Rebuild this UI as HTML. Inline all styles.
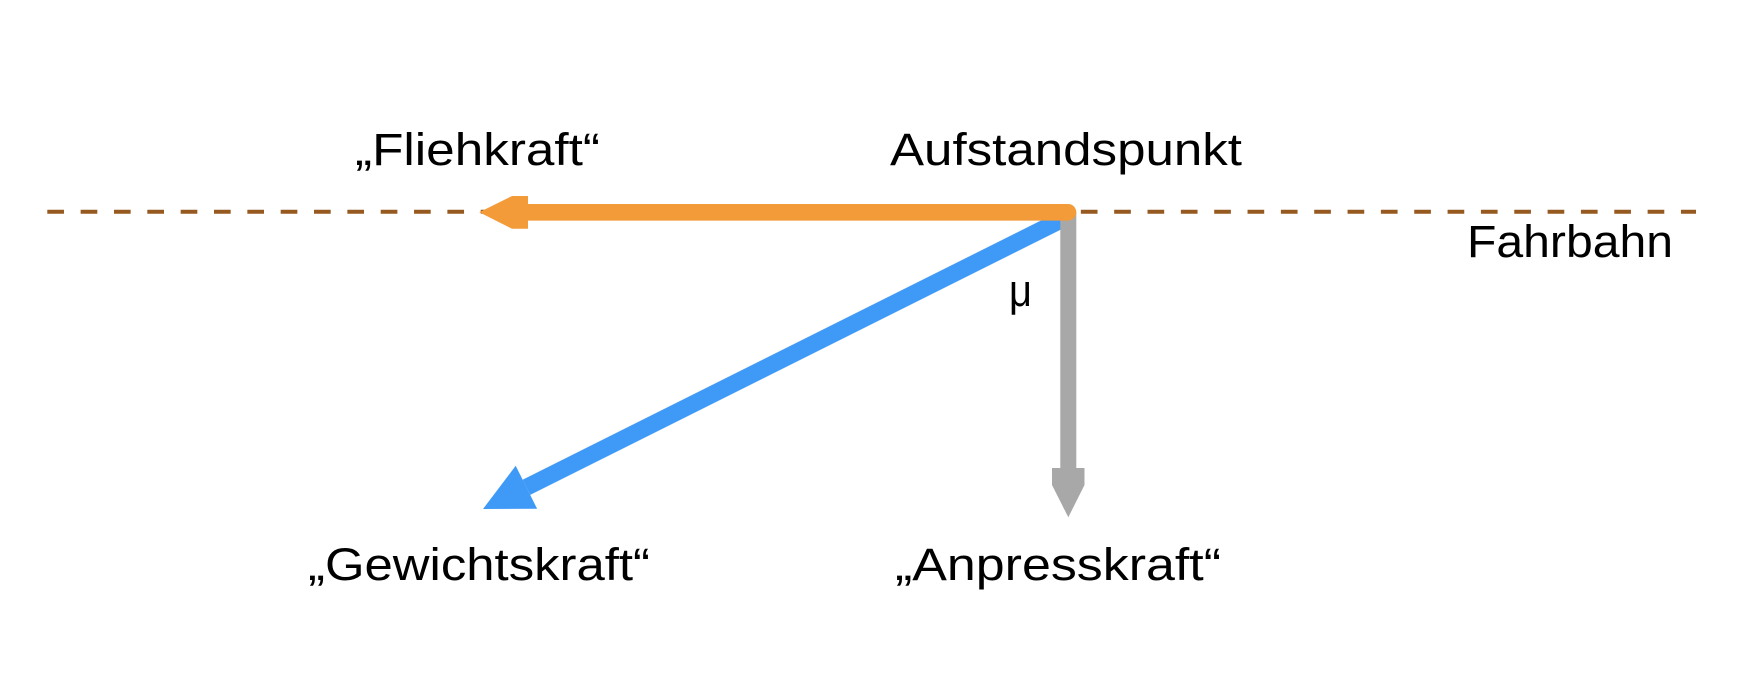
<!DOCTYPE html>
<html>
<head>
<meta charset="utf-8">
<style>
  html, body { margin: 0; padding: 0; background: #ffffff; }
  body { width: 1742px; height: 691px; overflow: hidden; }
  svg { display: block; }
  text { font-family: "Liberation Sans", "DejaVu Sans", sans-serif; fill: #000; }
</style>
</head>
<body>
<svg width="1742" height="691" viewBox="0 0 1742 691" xmlns="http://www.w3.org/2000/svg">
  <rect x="0" y="0" width="1742" height="691" fill="#ffffff"/>

  <!-- Fahrbahn dashed line -->
  <line x1="47.3" y1="211.8" x2="1696" y2="211.8" stroke="#96591f" stroke-width="4" stroke-dasharray="16.67 16.67"/>

  <!-- Blue arrow (Gewichtskraft) -->
  <line x1="526.4" y1="487.3" x2="1066" y2="217.5" stroke="#3f9af7" stroke-width="17"/>
  <polygon points="483,509 515.7,465.8 537.1,508.8" fill="#3f9af7"/>

  <!-- Gray arrow (Anpresskraft) -->
  <line x1="1068.3" y1="212" x2="1068.3" y2="469" stroke="#a8a8a8" stroke-width="16"/>
  <polygon points="1052,468 1084.5,468 1084.5,485 1068.3,517.3 1052,485" fill="#a8a8a8"/>

  <!-- Orange arrow (Fliehkraft) -->
  <line x1="527" y1="212.3" x2="1068" y2="212.3" stroke="#f29b38" stroke-width="16.6" stroke-linecap="round"/>
  <polygon points="479.3,212.3 512,196 528,196 528,228.7 512,228.7" fill="#f29b38"/>

  <!-- Labels -->
  <text x="355" y="165" font-size="45" textLength="245" lengthAdjust="spacingAndGlyphs">„Fliehkraft“</text>
  <text x="890" y="165" font-size="45" textLength="352" lengthAdjust="spacingAndGlyphs">Aufstandspunkt</text>
  <text x="1467" y="257" font-size="45" textLength="206" lengthAdjust="spacingAndGlyphs">Fahrbahn</text>
  <text x="1009" y="306" font-size="45" textLength="23" lengthAdjust="spacingAndGlyphs">μ</text>
  <text x="308" y="580" font-size="45" textLength="342" lengthAdjust="spacingAndGlyphs">„Gewichtskraft“</text>
  <text x="895" y="580" font-size="45" textLength="326" lengthAdjust="spacingAndGlyphs">„Anpresskraft“</text>
</svg>
</body>
</html>
